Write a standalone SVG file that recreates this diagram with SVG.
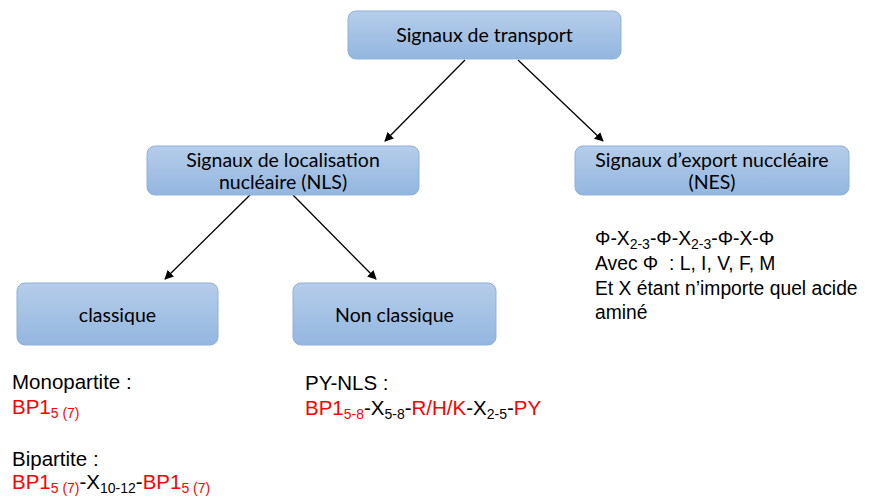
<svg xmlns="http://www.w3.org/2000/svg" width="877" height="500" viewBox="0 0 877 500">
<defs>
<linearGradient id="g" x1="0" y1="0" x2="0" y2="1">
<stop offset="0" stop-color="#b6cdea"/>
<stop offset="1" stop-color="#93b6e0"/>
</linearGradient>
<marker id="ah" viewBox="0 0 10 10" refX="9" refY="5" markerWidth="9" markerHeight="9" markerUnits="userSpaceOnUse" orient="auto">
<path d="M0,0 L10,5 L0,10 z" fill="#000"/>
</marker>
<style>
.box{fill:url(#g);stroke:#8fb0d9;stroke-width:1}
.bt{font-family:Lato,"Open Sans",sans-serif;font-size:19.5px;fill:#000;text-anchor:middle}
.t{font-family:"Liberation Sans",Arial,sans-serif;font-size:20.5px;fill:#000}
.n{font-family:"Liberation Sans",Arial,sans-serif;font-size:19.3px;fill:#000;white-space:pre}
.r{fill:#ff0000}
.s{font-size:14px}
.c{stroke:#000;stroke-width:1.3;fill:none;marker-end:url(#ah)}
</style>
</defs>
<rect width="877" height="500" fill="#fff"/>
<g id="connectors">
<line class="c" x1="465" y1="60" x2="385" y2="141"/>
<line class="c" x1="518" y1="60" x2="603" y2="141"/>
<line class="c" x1="250" y1="195" x2="165" y2="279"/>
<line class="c" x1="293" y1="195" x2="376" y2="279"/>
</g>
<g id="n-transport">
<rect class="box" x="348" y="11" width="273" height="48" rx="8"/>
<text class="bt" x="484.5" y="42">Signaux de transport</text>
</g>
<g id="n-nls">
<rect class="box" x="147" y="146" width="272" height="49" rx="8"/>
<text class="bt" x="283" y="167">Signaux de localisation</text>
<text class="bt" x="283" y="189">nucléaire (NLS)</text>
</g>
<g id="n-nes">
<rect class="box" x="575" y="146" width="274" height="49" rx="8"/>
<text class="bt" x="712" y="167">Signaux d’export nuccléaire</text>
<text class="bt" x="712" y="189">(NES)</text>
</g>
<g id="n-classique">
<rect class="box" x="17" y="283" width="201" height="62" rx="8"/>
<text class="bt" x="117.5" y="322">classique</text>
</g>
<g id="n-nonclassique">
<rect class="box" x="293" y="283" width="203" height="62" rx="8"/>
<text class="bt" x="394.5" y="322">Non classique</text>
</g>
<g id="classique-text">
<text class="t" x="12" y="389">Monopartite :</text>
<text class="t r" x="12" y="414">BP1<tspan class="s" dy="4">5 (7)</tspan></text>
<text class="t" x="12" y="466">Bipartite :</text>
<text class="t" x="12" y="489"><tspan class="r">BP1</tspan><tspan class="s r" dy="4">5 (7)</tspan><tspan dy="-4">-X</tspan><tspan class="s" dy="4">10-12</tspan><tspan dy="-4">-</tspan><tspan class="r">BP1</tspan><tspan class="s r" dy="4">5 (7)</tspan></text>
</g>
<g id="nonclassique-text">
<text class="t" x="305" y="390">PY-NLS :</text>
<text class="t" x="305" y="415"><tspan class="r">BP1</tspan><tspan class="s r" dy="4">5-8</tspan><tspan dy="-4">-X</tspan><tspan class="s" dy="4">5-8</tspan><tspan dy="-4">-</tspan><tspan class="r">R/H/K</tspan><tspan>-X</tspan><tspan class="s" dy="4">2-5</tspan><tspan dy="-4">-</tspan><tspan class="r">PY</tspan></text>
</g>
<g id="nes-text">
<text class="n" x="595" y="245">Φ-X<tspan class="s" dy="4">2-3</tspan><tspan dy="-4">-Φ-X</tspan><tspan class="s" dy="4">2-3</tspan><tspan dy="-4">-Φ-X-Φ</tspan></text>
<text class="n" x="595" y="270">Avec Φ  : L, I, V, F, M</text>
<text class="n" x="595" y="295">Et X étant n’importe quel acide</text>
<text class="n" x="595" y="319">aminé</text>
</g>
</svg>
